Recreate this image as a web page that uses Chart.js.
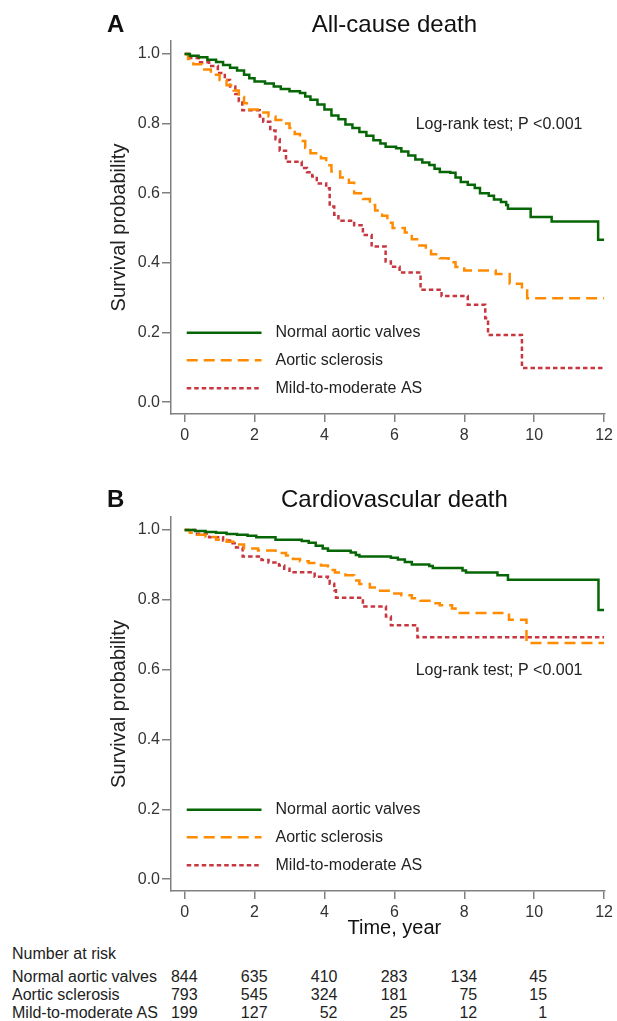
<!DOCTYPE html>
<html>
<head>
<meta charset="utf-8">
<script src="https://cdn.jsdelivr.net/npm/chart.js@4.4.0/dist/chart.umd.min.js"></script>
<style>
  body { margin: 0; background: #fff; }
  #page { position: relative; width: 617px; height: 1021px; overflow: hidden; background: #fff;
          font-family: "Liberation Sans", Arial, sans-serif; color: #222; }
  canvas { position: absolute; left: 0; }
  #risk div { position: absolute; font-size: 16px; line-height: 18px; white-space: nowrap; }
</style>
</head>
<body>
<div id="page">
  <canvas id="allCause" width="617" height="450" style="top:0"></canvas>
  <canvas id="cardio" width="617" height="485" style="top:460px"></canvas>
  <div id="risk"></div>
</div>
<script>
// --- data ---
const groupNames = ['Normal aortic valves', 'Aortic sclerosis', 'Mild-to-moderate AS'];
const xTicks = [0, 2, 4, 6, 8, 10, 12];
const yTicks = [0, 0.2, 0.4, 0.6, 0.8, 1.0];
const logRankText = 'Log-rank test; P <0.001';

// A: all-cause death
const acNormalTime = [0, 0.15, 0.4, 0.65, 0.9, 1.1, 1.3, 1.5, 1.7, 1.85, 2.0, 2.3, 2.55, 2.75, 3.0, 3.3, 3.45, 3.6, 3.8, 4.0, 4.2, 4.4, 4.6, 4.8, 5.0, 5.2, 5.4, 5.6, 5.75, 6.05, 6.2, 6.4, 6.6, 6.8, 7.0, 7.15, 7.3, 7.6, 7.75, 7.9, 8.1, 8.3, 8.45, 8.7, 8.85, 9.05, 9.2, 9.25, 9.9, 10.5, 11.83, 12.0];
const acNormalSurv = [1.0, 0.995, 0.99, 0.983, 0.977, 0.968, 0.96, 0.952, 0.94, 0.93, 0.921, 0.915, 0.906, 0.899, 0.893, 0.888, 0.878, 0.868, 0.855, 0.84, 0.823, 0.812, 0.797, 0.787, 0.776, 0.765, 0.752, 0.743, 0.733, 0.729, 0.72, 0.708, 0.697, 0.688, 0.681, 0.67, 0.661, 0.659, 0.645, 0.632, 0.624, 0.615, 0.6, 0.593, 0.582, 0.575, 0.566, 0.555, 0.532, 0.519, 0.466, 0.466];
const acSclerTime = [0, 0.1, 0.25, 0.5, 0.75, 1.0, 1.2, 1.4, 1.55, 1.7, 1.85, 2.15, 2.4, 2.6, 2.8, 3.0, 3.15, 3.3, 3.45, 3.6, 3.9, 4.05, 4.2, 4.45, 4.7, 4.85, 5.1, 5.3, 5.45, 5.65, 5.8, 5.95, 6.3, 6.5, 6.65, 6.9, 7.05, 7.3, 7.55, 7.75, 8.0, 8.9, 9.3, 9.65, 9.8, 12.0];
const acSclerSurv = [1.0, 0.985, 0.97, 0.955, 0.94, 0.925, 0.91, 0.895, 0.876, 0.858, 0.84, 0.832, 0.82, 0.81, 0.8, 0.787, 0.77, 0.75, 0.73, 0.715, 0.7, 0.68, 0.662, 0.645, 0.63, 0.6, 0.583, 0.566, 0.55, 0.535, 0.515, 0.5, 0.487, 0.468, 0.45, 0.44, 0.425, 0.413, 0.402, 0.388, 0.378, 0.368, 0.34, 0.325, 0.298, 0.298];
const acMildTime = [0, 0.12, 0.4, 0.7, 0.95, 1.15, 1.3, 1.45, 1.55, 1.65, 2.15, 2.25, 2.45, 2.6, 2.72, 2.9, 3.35, 3.5, 3.65, 3.78, 4.05, 4.15, 4.28, 4.4, 4.85, 5.1, 5.35, 5.75, 5.9, 6.15, 6.75, 7.35, 8.1, 8.6, 8.68, 9.65, 12.0];
const acMildSurv = [1.0, 0.988, 0.976, 0.965, 0.945, 0.925, 0.906, 0.885, 0.865, 0.838, 0.82, 0.805, 0.78, 0.755, 0.722, 0.69, 0.672, 0.66, 0.648, 0.628, 0.614, 0.562, 0.538, 0.521, 0.508, 0.48, 0.447, 0.404, 0.389, 0.372, 0.323, 0.305, 0.28, 0.241, 0.193, 0.098, 0.098];

// B: cardiovascular death
const cvNormalTime = [0, 0.3, 0.6, 0.9, 1.2, 1.5, 1.8, 2.05, 2.6, 3.35, 3.55, 3.75, 3.95, 4.1, 4.75, 4.9, 5.0, 5.9, 6.1, 6.3, 6.5, 7.0, 7.1, 7.95, 8.05, 8.95, 9.25, 11.84, 12.0];
const cvNormalSurv = [1.0, 0.997, 0.994, 0.992, 0.988, 0.986, 0.983, 0.979, 0.972, 0.968, 0.963, 0.955, 0.947, 0.94, 0.935, 0.928, 0.924, 0.92, 0.915, 0.908, 0.901, 0.897, 0.891, 0.884, 0.878, 0.87, 0.857, 0.771, 0.771];
const cvSclerTime = [0, 0.15, 0.35, 0.6, 0.9, 1.2, 1.45, 1.7, 2.1, 2.6, 2.9, 3.1, 3.3, 3.55, 3.9, 4.1, 4.3, 4.6, 4.85, 5.0, 5.3, 5.5, 6.0, 6.2, 6.5, 6.75, 7.05, 7.3, 7.65, 7.75, 9.28, 9.78, 12.0];
const cvSclerSurv = [1.0, 0.992, 0.986, 0.98, 0.972, 0.966, 0.958, 0.947, 0.941, 0.934, 0.927, 0.917, 0.91, 0.905, 0.898, 0.885, 0.878, 0.87, 0.855, 0.845, 0.835, 0.826, 0.818, 0.813, 0.804, 0.797, 0.79, 0.784, 0.775, 0.762, 0.743, 0.676, 0.676];
const cvMildTime = [0, 0.3, 0.7, 1.1, 1.3, 1.47, 1.66, 2.2, 2.4, 2.7, 2.85, 3.0, 3.72, 4.1, 4.15, 4.28, 4.33, 5.1, 5.76, 5.9, 6.66, 12.0];
const cvMildSurv = [1.0, 0.989, 0.979, 0.97, 0.962, 0.95, 0.924, 0.914, 0.907, 0.898, 0.889, 0.879, 0.866, 0.862, 0.846, 0.827, 0.806, 0.781, 0.752, 0.727, 0.693, 0.693];

// number at risk
const riskTimes = [0, 2, 4, 6, 8, 10];
const riskNormal = [844, 635, 410, 283, 134, 45];
const riskScler = [793, 545, 324, 181, 75, 15];
const riskMild = [199, 127, 52, 25, 12, 1];

// --- styling ---
const FONT = '"Liberation Sans", Arial, sans-serif';
const styles = [
  { color: '#066606', dash: [] },
  { color: '#ff8c00', dash: [11, 6] },
  { color: '#c8373f', dash: [4.5, 3] }
];
const axisGray = '#808080';

function toPoints(times, surv) {
  return times.map((t, i) => ({ x: t, y: surv[i] }));
}

function makeDatasets(series) {
  return series.map((s, i) => ({
    label: groupNames[i],
    data: toPoints(s[0], s[1]),
    borderColor: styles[i].color,
    borderDash: styles[i].dash,
    borderWidth: 2.5,
    stepped: true,
    pointRadius: 0,
    fill: false
  }));
}

// titles, note and legend drawn on the canvas
const decor = {
  id: 'decor',
  afterDraw(chart, args, o) {
    const { ctx } = chart;
    const xs = chart.scales.x, ys = chart.scales.y;
    ctx.save();
    ctx.textBaseline = 'middle';
    ctx.fillStyle = '#111';
    ctx.font = 'bold 24px ' + FONT;
    ctx.textAlign = 'left';
    ctx.fillText(o.letter, 107, o.titleY);
    ctx.font = '24px ' + FONT;
    ctx.textAlign = 'center';
    ctx.fillText(o.title, xs.getPixelForValue(6), o.titleY);
    if (o.xTitle) {
      ctx.font = '20px ' + FONT;
      ctx.fillText(o.xTitle, xs.getPixelForValue(6), o.xTitleY);
    }
    ctx.fillStyle = '#222';
    ctx.font = '16px ' + FONT;
    ctx.textAlign = 'left';
    ctx.fillText(logRankText, xs.getPixelForValue(6.61), ys.getPixelForValue(o.noteY));
    const rows = [0.199, 0.12, 0.04];
    chart.data.datasets.forEach((ds, i) => {
      const ly = ys.getPixelForValue(rows[i]);
      ctx.strokeStyle = ds.borderColor;
      ctx.lineWidth = ds.borderWidth;
      ctx.setLineDash(ds.borderDash);
      ctx.beginPath();
      ctx.moveTo(xs.getPixelForValue(0.06), ly);
      ctx.lineTo(xs.getPixelForValue(2.2), ly);
      ctx.stroke();
      ctx.setLineDash([]);
      ctx.fillText(ds.label, xs.getPixelForValue(2.6), ly);
    });
    ctx.restore();
  }
};

function makeChart(id, series, padTop, xHeight, decorOpts) {
  return new Chart(document.getElementById(id), {
    type: 'line',
    data: { datasets: makeDatasets(series) },
    plugins: [decor],
    options: {
      responsive: false,
      animation: false,
      devicePixelRatio: 1,
      layout: { padding: { left: 100, right: 11, top: padTop, bottom: 0 } },
      plugins: { legend: { display: false }, tooltip: { enabled: false }, decor: decorOpts },
      scales: {
        x: {
          type: 'linear', min: -0.39, max: 12.03,
          afterBuildTicks: s => { s.ticks = xTicks.map(v => ({ value: v })); },
          afterFit: s => { s.height = xHeight; },
          ticks: { font: { size: 16, family: FONT }, color: '#333', padding: 4, maxRotation: 0,
                   callback: v => String(v) },
          grid: { drawOnChartArea: false, tickLength: 8, color: axisGray, lineWidth: 1.5 },
          border: { color: axisGray, width: 1.5 }
        },
        y: {
          min: -0.034, max: 1.037,
          afterBuildTicks: s => { s.ticks = yTicks.map(v => ({ value: v })); },
          afterFit: s => { s.width = 71; },
          ticks: { font: { size: 16, family: FONT }, color: '#333', padding: 2,
                   callback: v => v.toFixed(1) },
          grid: { drawOnChartArea: false, tickLength: 9, color: axisGray, lineWidth: 1.5 },
          border: { color: axisGray, width: 1.5 },
          title: { display: true, text: 'Survival probability', color: '#222',
                   font: { size: 20, family: FONT }, padding: { top: 7, bottom: 0 } }
        }
      }
    }
  });
}

makeChart('allCause',
  [[acNormalTime, acNormalSurv], [acSclerTime, acSclerSurv], [acMildTime, acMildSurv]],
  41, 36,
  { letter: 'A', title: 'All-cause death', titleY: 25, noteY: 0.796 });

const cvChart = makeChart('cardio',
  [[cvNormalTime, cvNormalSurv], [cvSclerTime, cvSclerSurv], [cvMildTime, cvMildSurv]],
  57, 54,
  { letter: 'B', title: 'Cardiovascular death', titleY: 40, noteY: 0.598,
    xTitle: 'Time, year', xTitleY: 468 });

// number-at-risk table, columns placed from the chart's own x scale
const risk = document.getElementById('risk');
function addText(text, left, top, right) {
  const d = document.createElement('div');
  d.textContent = text;
  if (right !== undefined) {
    d.style.left = '0px';
    d.style.width = right + 'px';
    d.style.textAlign = 'right';
  } else {
    d.style.left = left + 'px';
  }
  d.style.top = top + 'px';
  risk.appendChild(d);
}
addText('Number at risk', 12, 945);
const rowTops = [968, 986, 1004];
[riskNormal, riskScler, riskMild].forEach((row, r) => {
  addText(groupNames[r], 12, rowTops[r]);
  row.forEach((n, i) => {
    const px = cvChart.scales.x.getPixelForValue(riskTimes[i]) + 13;
    addText(String(n), 0, rowTops[r], px);
  });
});
</script>
</body>
</html>
